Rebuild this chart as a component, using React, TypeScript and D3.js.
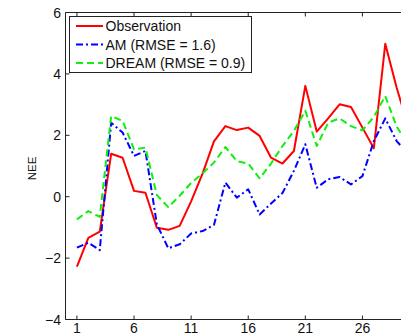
import React from "react";
import * as d3 from "d3";

// NEE per time step (1..30)
const steps = d3.range(1, 31);
const observation = [-2.28, -1.34, -1.14, 1.4, 1.27, 0.19, 0.13, -1.01, -1.08, -0.95, -0.15, 0.75, 1.8, 2.3, 2.17, 2.25, 1.98, 1.27, 1.08, 1.49, 3.61, 2.12, 2.55, 3.01, 2.92, 2.25, 1.58, 4.98, 3.55, 2.3];
const am = [-1.66, -1.5, -1.74, 2.41, 2.09, 1.33, 1.49, -0.9, -1.68, -1.55, -1.2, -1.12, -0.92, 0.46, -0.03, 0.24, -0.58, -0.22, 0.12, 0.84, 1.71, 0.29, 0.57, 0.64, 0.4, 0.67, 1.81, 2.55, 1.81, 1.4];
const dream = [-0.74, -0.47, -0.66, 2.63, 2.47, 1.54, 1.6, 0.05, -0.34, 0.03, 0.45, 0.76, 1.11, 1.62, 1.16, 1.08, 0.6, 1.08, 1.65, 2.14, 2.8, 1.65, 2.41, 2.55, 2.3, 2.16, 2.6, 3.28, 2.28, 1.7];

const xTicks = [1, 6, 11, 16, 21, 26];
const yTicks = [-4, -2, 0, 2, 4, 6];

const seriesList = [
  { name: "Observation", values: observation, color: "#ff0000", dash: "none" },
  { name: "AM (RMSE = 1.6)", values: am, color: "#0000ff", dash: "7,3,2,3" },
  { name: "DREAM (RMSE = 0.9)", values: dream, color: "#11ee11", dash: "7,4" },
];

const W = 401;
const H = 336;
const left = 65.5;
const top = 12.5;
const bottom = 319.5;

export default function App() {
  const x = d3.scaleLinear().domain([0, 31]).range([left, left + 31 * 11.42]);
  const y = d3.scaleLinear().domain([-4, 6]).range([bottom, top]);

  const line = d3
    .line<number>()
    .x((_, i) => x(steps[i]))
    .y((d) => y(d));

  const font = "'Liberation Sans', Arial, Helvetica, sans-serif";
  const axisColor = "#222";

  return (
    <svg
      width={W}
      height={H}
      style={{ position: "absolute", left: 0, top: 0, background: "#fff" }}
      fontFamily={font}
    >
      {/* series */}
      {seriesList.map((s) => (
        <path
          key={s.name}
          d={line(s.values) || ""}
          fill="none"
          stroke={s.color}
          strokeWidth={2}
          strokeDasharray={s.dash}
          strokeLinejoin="round"
        />
      ))}

      {/* axes box */}
      <line x1={left} x2={W} y1={top} y2={top} stroke={axisColor} />
      <line x1={left} x2={W} y1={bottom} y2={bottom} stroke={axisColor} />
      <line x1={left} x2={left} y1={top} y2={bottom} stroke={axisColor} />

      {xTicks.map((t) => (
        <g key={"x" + t}>
          <line x1={x(t)} x2={x(t)} y1={bottom} y2={bottom - 4} stroke={axisColor} />
          <line x1={x(t)} x2={x(t)} y1={top} y2={top + 4} stroke={axisColor} />
          <text x={x(t)} y={333} textAnchor="middle" fontSize={14} fill="#111">
            {t}
          </text>
        </g>
      ))}

      {yTicks.map((t) => (
        <g key={"y" + t}>
          <line x1={left} x2={left + 4} y1={y(t)} y2={y(t)} stroke={axisColor} />
          <text x={61} y={y(t) + 5} textAnchor="end" fontSize={14} fill="#111">
            {t < 0 ? "\u2212" + Math.abs(t) : t}
          </text>
        </g>
      ))}

      <text
        transform="translate(36,168.5) rotate(-90)"
        textAnchor="middle"
        fontSize={11.5}
        fill="#111"
      >
        NEE
      </text>

      {/* legend */}
      <g>
        <rect x={69.5} y={16.5} width={182} height={56} fill="#fff" stroke={axisColor} />
        {seriesList.map((s, i) => {
          const cy = 26 + i * 18.5;
          return (
            <g key={"lg" + s.name}>
              <line x1={76} x2={103} y1={cy} y2={cy} stroke={s.color} strokeWidth={2} strokeDasharray={s.dash} />
              <text x={105.5} y={cy + 5} fontSize={14} fill="#111">
                {s.name}
              </text>
            </g>
          );
        })}
      </g>
    </svg>
  );
}
